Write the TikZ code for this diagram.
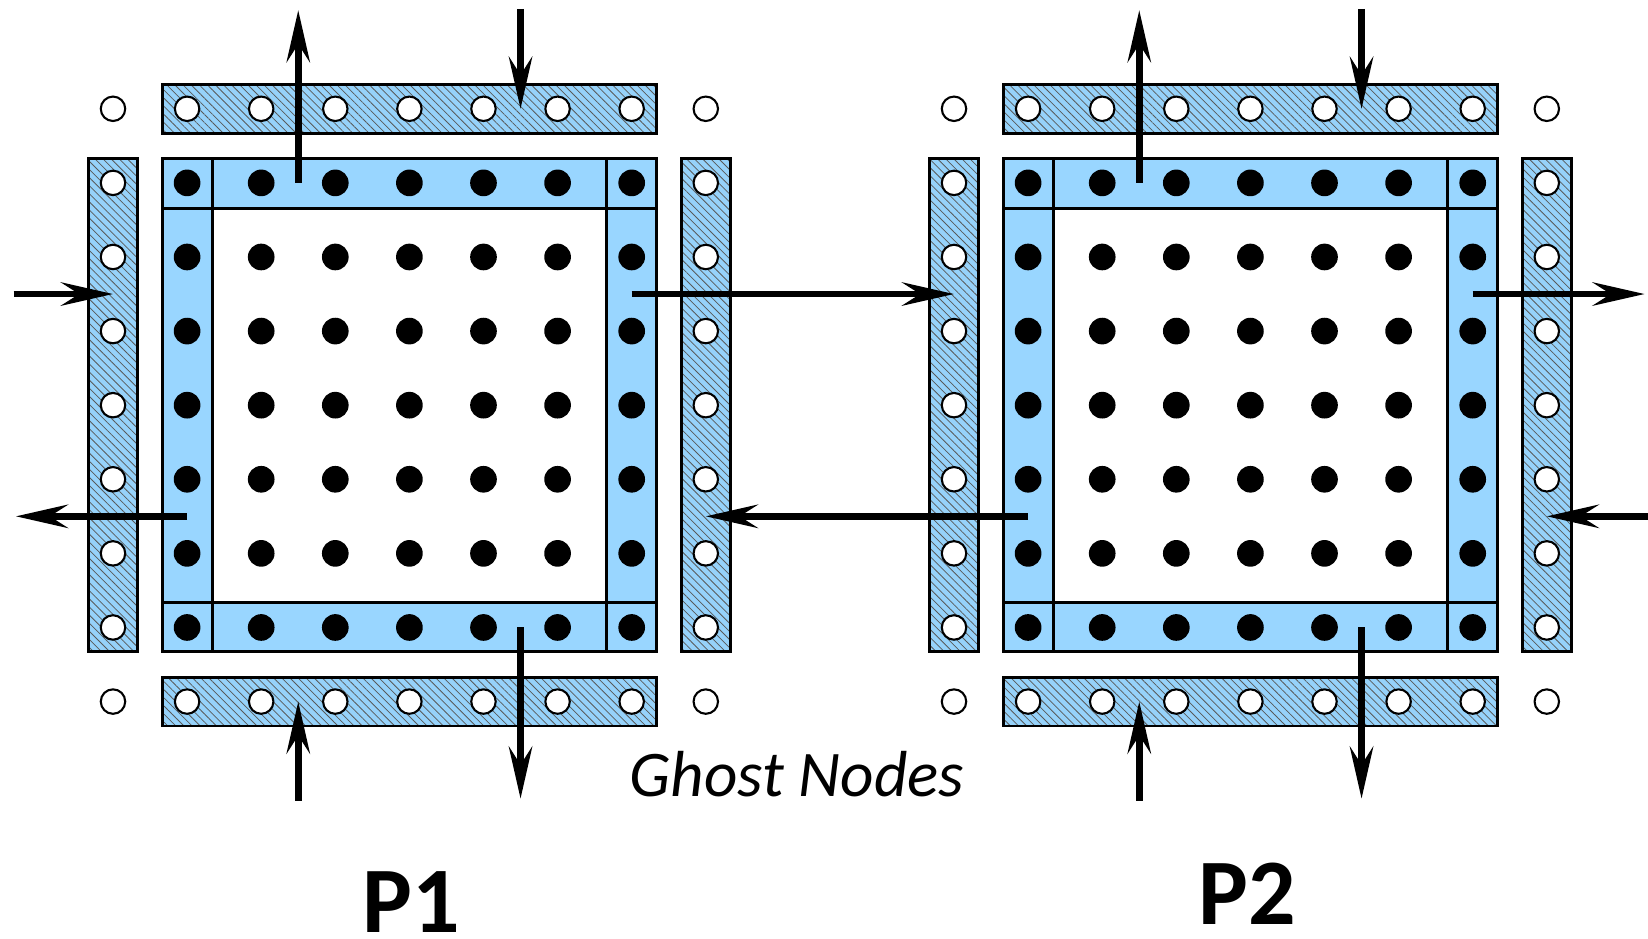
\documentclass[tikz,border=0pt]{standalone}
\usepackage{fontspec}
\newfontfamily\calfont{Carlito}
\usetikzlibrary{arrows.meta, patterns.meta, calc}

\definecolor{localblue}{RGB}{153,214,255}
\definecolor{ghostblue}{RGB}{150,210,250}

\tikzset{
  interior/.style={circle, fill=black, minimum size=0.36cm, inner sep=0pt},
  ghost/.style={circle, draw=black, fill=white, line width=0.8pt, minimum size=0.33cm, inner sep=0pt},
  frame/.style={draw=black, line width=1.1pt},
  ghoststrip/.style={frame, preaction={fill=ghostblue},
    pattern={Lines[angle=-45, distance=2.2pt, line width=0.3pt]}, pattern color=black!65},
  comm/.style={line width=2.5pt, -{Stealth[length=20pt, width=9pt, inset=7pt]}},
}

\begin{document}
\begin{tikzpicture}
        \useasboundingbox (-2.525,2.468) rectangle (19.716,-10.204);

        % ===================================================
        % 1. PROCESSOR BLOCKS (P1 left, P2 right)
        % ===================================================
        \foreach \p/\ox in {1/0, 2/11.35} {
          \begin{scope}[xshift=\ox cm]
            % Ghost strips round the block (hatched)
            \draw[ghoststrip] (-0.33, 1.33) rectangle (6.33, 0.67);
            \draw[ghoststrip] (-0.33,-6.67) rectangle (6.33,-7.33);
            \draw[ghoststrip] (-1.33, 0.33) rectangle (-0.67,-6.33);
            \draw[ghoststrip] ( 6.67, 0.33) rectangle ( 7.33,-6.33);

            % Boundary frame and white interior
            \draw[frame, fill=localblue] (-0.33,0.33) rectangle (6.33,-6.33);
            \draw[frame, fill=white] (0.34,-0.34) rectangle (5.66,-5.66);

            % Corner cells of the frame
            \draw[frame] (0.34,0.33) -- (0.34,-0.34) -- (-0.33,-0.34);
            \draw[frame] (5.66,0.33) -- (5.66,-0.34) -- (6.33,-0.34);
            \draw[frame] (0.34,-6.33) -- (0.34,-5.66) -- (-0.33,-5.66);
            \draw[frame] (5.66,-6.33) -- (5.66,-5.66) -- (6.33,-5.66);

            % Local grid points
            \foreach \i in {0,...,6}
              \foreach \j in {0,...,6}
                \node[interior] (p\p-\i-\j) at (\i,-\j) {};

            % Ghost points (top, bottom, left, right)
            \foreach \k in {0,...,6} {
              \node[ghost] (p\p-gt-\k) at (\k, 1) {};
              \node[ghost] (p\p-gb-\k) at (\k,-7) {};
              \node[ghost] (p\p-gl-\k) at (-1,-\k) {};
              \node[ghost] (p\p-gr-\k) at (7,-\k) {};
            }

            % Corner ghost points
            \node[ghost] (p\p-nw) at (-1, 1) {};
            \node[ghost] (p\p-ne) at ( 7, 1) {};
            \node[ghost] (p\p-sw) at (-1,-7) {};
            \node[ghost] (p\p-se) at ( 7,-7) {};

            % Vertical exchange (free ends)
            \coordinate (p\p-topout) at (1.5, 2.33);
            \coordinate (p\p-topin)  at (4.5, 2.35);
            \coordinate (p\p-botin)  at (1.5,-8.34);
            \coordinate (p\p-botout) at (4.5,-8.31);

            \draw[comm] ($(p\p-1-0)!0.5!(p\p-2-0)$) -- (p\p-topout);
            \draw[comm] (p\p-topin) -- ($(p\p-gt-4)!0.5!(p\p-gt-5)$);
            \draw[comm] (p\p-botin) -- ($(p\p-gb-1)!0.5!(p\p-gb-2)$);
            \draw[comm] ($(p\p-4-6)!0.5!(p\p-5-6)$) -- (p\p-botout);
          \end{scope}
        }

        % ===================================================
        % 2. HORIZONTAL EXCHANGE
        % ===================================================
        \coordinate (p1-leftin)   at (-2.34,-1.5);
        \coordinate (p1-leftout)  at (-2.31,-4.5);
        \coordinate (p2-rightout) at (19.67,-1.5);
        \coordinate (p2-rightin)  at (19.72,-4.5);

        \draw[comm] (p1-leftin) -- ($(p1-gl-1)!0.5!(p1-gl-2)$);
        \draw[comm] ($(p1-0-4)!0.5!(p1-0-5)$) -- (p1-leftout);

        % P1 -> P2 and P2 -> P1
        \draw[comm] ($(p1-6-1)!0.5!(p1-6-2)$) -- ($(p2-gl-1)!0.5!(p2-gl-2)$);
        \draw[comm] ($(p2-0-4)!0.5!(p2-0-5)$) -- ($(p1-gr-4)!0.5!(p1-gr-5)$);

        \draw[comm] ($(p2-6-1)!0.5!(p2-6-2)$) -- (p2-rightout);
        \draw[comm] (p2-rightin) -- ($(p2-gr-4)!0.5!(p2-gr-5)$);

        % ===================================================
        % 3. LABELS
        % ===================================================
        \node[font=\calfont\itshape\fontsize{25}{30}\selectfont, anchor=base, inner sep=0pt]
          (ghostlabel) at (8.23,-8.28) {Ghost Nodes};
        \node[font=\calfont\bfseries\fontsize{36}{40}\selectfont, anchor=base, inner sep=0pt]
          (p1label) at (3.02,-10.11) {P1};
        \node[font=\calfont\bfseries\fontsize{36}{40}\selectfont, anchor=base, inner sep=0pt]
          (p2label) at (14.31,-10.01) {P2};

    \end{tikzpicture}
\end{document}
